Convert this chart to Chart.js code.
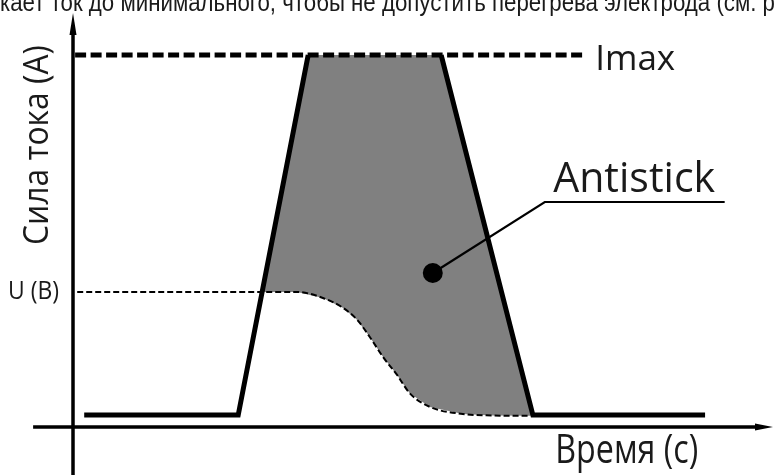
<!DOCTYPE html>
<html><head><meta charset="utf-8">
<script src="https://cdn.jsdelivr.net/npm/chart.js@4"></script>
<style>html,body{margin:0;padding:0;background:#fff;overflow:hidden}#wrap{width:775px;height:475px;position:relative}</style>
</head><body><div id="wrap"><canvas id="c"></canvas></div>
<script>
// ---- data (time units on x, current units on y; Imax = 100) ----
const xRange = [-10.43, 100.29];
const yRange = [-12.9, 114.8];
const imaxLevel = 100;
const imaxLineX = [0.3, 72.9];
const uLevel = 36.3;
const profileLeftX = [1.6, 23.6, 33.6];
const profileLeftY = [3.2, 3.2, 100];
const profileRightX = [52.6, 65.7, 90.3];
const profileRightY = [100, 3.2, 3.2];
const voltageX = [0.6, 27.1, 32.0, 35.7, 38.6, 40.6, 42.4, 44.3, 46.3, 48.1, 51.0, 55.7, 60.0, 65.3];
const voltageY = [36.3, 36.3, 36.3, 34.7, 32.0, 28.8, 24.2, 18.8, 14.0, 9.1, 5.4, 3.5, 3.1, 3.0];
const antistickDot = [51.4, 41.4];
const pointerX = [51.4, 67.4, 93.1];
const pointerY = [41.4, 60.5, 60.5];
const labels = {
  top: 'кает ток до минимального, чтобы не допустить перегрева электрода (см. р',
  imax: 'Imax', antistick: 'Antistick', xTitle: 'Время (с)', yTitle: 'Сила тока (А)', u: 'U (В)'
};

const pts = (xs, ys) => xs.map((x, i) => ({x, y: ys[i]}));

// gray Antistick area: left edge above U crossing, top, right edge, then U curve back
const leftCrossX = profileLeftX[1] + (uLevel - profileLeftY[1]) / (profileLeftY[2] - profileLeftY[1]) * (profileLeftX[2] - profileLeftX[1]);
const curvePts = pts(voltageX, voltageY).filter(p => p.x >= leftCrossX);
const fillPoly = [
  {x: profileLeftX[2], y: profileLeftY[2]},
  {x: profileRightX[0], y: profileRightY[0]},
  {x: profileRightX[1], y: profileRightY[1]},
  ...curvePts.slice().reverse(),
  {x: leftCrossX, y: uLevel},
  {x: profileLeftX[2], y: profileLeftY[2]}
];

function fitText(ctx, text, x, y, font, width, align) {
  ctx.save();
  ctx.font = font;
  const w = ctx.measureText(text).width;
  const s = width / w;
  ctx.translate(x, y);
  ctx.scale(s, 1);
  ctx.textAlign = align || 'left';
  ctx.fillText(text, 0, 0);
  ctx.restore();
}

const decor = {
  id: 'decor',
  beforeDatasetsDraw(chart) {
    const {ctx, scales: {x, y}} = chart;
    const x0 = x.getPixelForValue(0), y0 = y.getPixelForValue(0);
    ctx.save();
    ctx.strokeStyle = '#000'; ctx.fillStyle = '#000'; ctx.lineWidth = 3.5;
    // y axis
    const yTop = y.getPixelForValue(111.3);
    ctx.beginPath(); ctx.moveTo(x0, chart.height); ctx.lineTo(x0, yTop + 12); ctx.stroke();
    ctx.beginPath(); ctx.moveTo(x0, yTop); ctx.lineTo(x0 - 3.5, yTop + 22); ctx.lineTo(x0 + 3.5, yTop + 22); ctx.closePath(); ctx.fill();
    // x axis
    const xL = x.getPixelForValue(-5.7), xR = x.getPixelForValue(100);
    ctx.beginPath(); ctx.moveTo(xL, y0); ctx.lineTo(xR - 10, y0); ctx.stroke();
    ctx.beginPath(); ctx.moveTo(xR, y0); ctx.lineTo(xR - 18, y0 - 3.5); ctx.lineTo(xR - 18, y0 + 3.5); ctx.closePath(); ctx.fill();
    ctx.restore();
  },
  afterDraw(chart) {
    const {ctx, scales: {x, y}} = chart;
    ctx.save();
    ctx.fillStyle = '#1a1a1a';
    ctx.textBaseline = 'alphabetic';
    fitText(ctx, labels.top, 0, y.getPixelForValue(111.85), '26px "Liberation Sans"', 775, 'left');
    fitText(ctx, labels.imax, x.getPixelForValue(74.6), y.getPixelForValue(96.0), '35px "Open Sans"', 80, 'left');
    fitText(ctx, labels.antistick, x.getPixelForValue(68.6), y.getPixelForValue(63.2), '42px "Open Sans"', 162, 'left');
    fitText(ctx, labels.xTitle, x.getPixelForValue(68.9), y.getPixelForValue(-9.7), '40px "Open Sans"', 143, 'left');
    ctx.textBaseline = 'middle';
    fitText(ctx, labels.u, x.getPixelForValue(-2.0), y.getPixelForValue(uLevel), '25px "Open Sans"', 51, 'right');
    ctx.save();
    ctx.translate(x.getPixelForValue(-4.9), y.getPixelForValue(75.8));
    ctx.rotate(-Math.PI / 2);
    fitText(ctx, labels.yTitle, 0, 0, '34px "Open Sans"', 200, 'center');
    ctx.restore();
    ctx.restore();
  }
};

new Chart(document.getElementById('c'), {
  type: 'scatter',
  data: {
    datasets: [
      {label: 'dot', data: [{x: antistickDot[0], y: antistickDot[1]}], pointRadius: 10, pointBackgroundColor: '#000', pointBorderWidth: 0, order: 1},
      {label: 'pointer', data: pts(pointerX, pointerY), showLine: true, borderColor: '#000', borderWidth: 2.2, pointRadius: 0, order: 2},
      {label: 'Imax', data: pts(imaxLineX, [imaxLevel, imaxLevel]), showLine: true, borderColor: '#000', borderWidth: 5, borderDash: [11, 4.5], pointRadius: 0, order: 3},
      {label: 'profileL', data: pts(profileLeftX, profileLeftY), showLine: true, borderColor: '#000', borderWidth: 5, borderJoinStyle: 'miter', pointRadius: 0, order: 4},
      {label: 'profileR', data: pts(profileRightX, profileRightY), showLine: true, borderColor: '#000', borderWidth: 5, borderJoinStyle: 'miter', pointRadius: 0, order: 4},
      {label: 'U', data: pts(voltageX, voltageY), showLine: true, borderColor: '#000', borderWidth: 2, borderDash: [6, 3], cubicInterpolationMode: 'monotone', pointRadius: 0, order: 5},
      {label: 'area', data: fillPoly, showLine: true, fill: 'shape', backgroundColor: '#808080', borderWidth: 0, borderColor: 'rgba(0,0,0,0)', pointRadius: 0, order: 10}
    ]
  },
  options: {
    responsive: true, maintainAspectRatio: false, animation: false,
    layout: {padding: 0, autoPadding: false},
    plugins: {legend: {display: false}, tooltip: {enabled: false}},
    scales: {
      x: {type: 'linear', display: false, min: xRange[0], max: xRange[1]},
      y: {type: 'linear', display: false, min: yRange[0], max: yRange[1]}
    }
  },
  plugins: [decor]
});
</script></body></html>
